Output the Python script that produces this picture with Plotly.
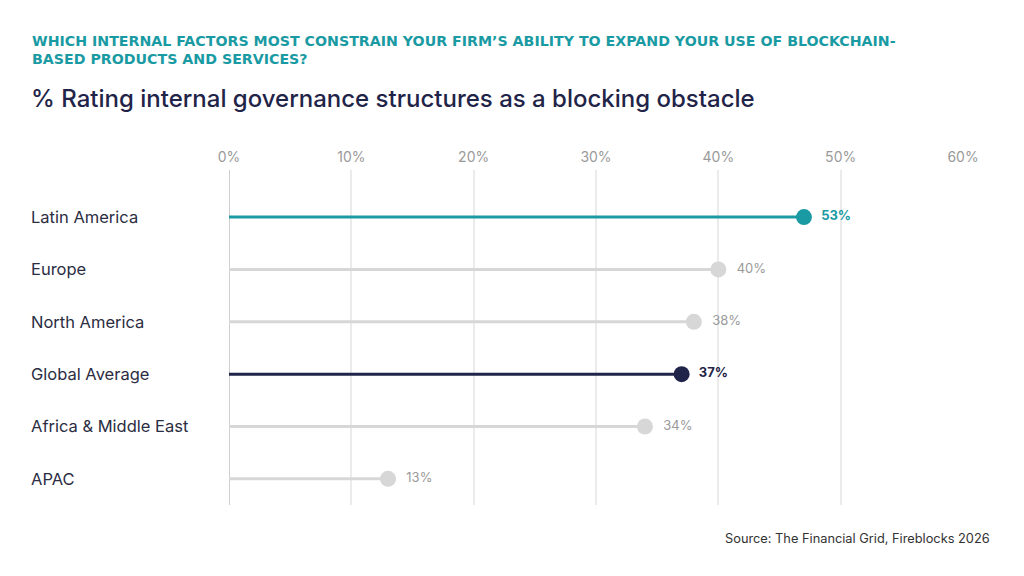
import plotly.graph_objects as go

categories = ["Latin America", "Europe", "North America", "Global Average", "Africa & Middle East", "APAC"]
values = [47, 40, 38, 37, 34, 13]
value_labels = ["53%", "40%", "38%", "37%", "34%", "13%"]
tick_vals = [0, 10, 20, 30, 40, 50, 60]
tick_text = ["0%", "10%", "20%", "30%", "40%", "50%", "60%"]

TEAL = "#1a9aa3"
NAVY = "#1f2448"
GRAY = "#d7d7d7"
GRAY_TXT = "#9a9a9a"

styles = {
    "Latin America": (TEAL, TEAL, "bold"),
    "Global Average": (NAVY, NAVY, "bold"),
}

fig = go.Figure()
W, H = 1024, 576
L, R, T, B = 229, 61, 170, 71
plot_w = W - L - R
plot_h = H - T - B


def px_x(px):
    return (px - L) / plot_w


def px_y(py):
    return (H - B - py) / plot_h


for i, (cat, v, lab) in enumerate(zip(categories, values, value_labels)):
    col, tcol, weight = styles.get(cat, (GRAY, GRAY_TXT, "normal"))
    fig.add_trace(go.Scatter(
        x=[0, v], y=[i, i], mode="lines",
        line=dict(color=col, width=3), hoverinfo="skip", showlegend=False))
    fig.add_trace(go.Scatter(
        x=[v], y=[i], mode="markers+text",
        marker=dict(color=col, size=16),
        text=["  " + lab], textposition="middle right",
        textfont=dict(family="Inter", size=13, color=tcol, weight=weight),
        showlegend=False, cliponaxis=False))
    fig.add_annotation(
        x=px_x(29), xref="paper", y=i, yref="y", xanchor="left",
        text=cat, showarrow=False,
        font=dict(family="Inter", size=16.5, color="#2b2d42"))

# zero line
fig.add_shape(type="line", x0=0, x1=0, y0=-0.9, y1=5.5, xref="x", yref="y",
              line=dict(color="#cfcfcf", width=2), layer="below")

fig.add_annotation(x=px_x(30), y=px_y(31), xref="paper", yref="paper",
                   xanchor="left", yanchor="top", align="left", showarrow=False,
                   text="WHICH INTERNAL FACTORS MOST CONSTRAIN YOUR FIRM’S ABILITY TO EXPAND YOUR USE OF BLOCKCHAIN-<br>BASED PRODUCTS AND SERVICES?",
                   font=dict(family="DejaVu Sans", size=14.2, color=TEAL, weight="bold"))
fig.add_annotation(x=px_x(29), y=px_y(82), xref="paper", yref="paper",
                   xanchor="left", yanchor="top", align="left", showarrow=False,
                   text="% Rating internal governance structures as a blocking obstacle",
                   font=dict(family="Inter", size=24, color=NAVY, weight=500))
fig.add_annotation(x=px_x(992), y=px_y(538), xref="paper", yref="paper",
                   xanchor="right", yanchor="middle", showarrow=False,
                   text="Source: The Financial Grid, Fireblocks 2026",
                   font=dict(family="Inter", size=12.8, color="#333333"))

fig.update_layout(
    width=W, height=H,
    margin=dict(l=L, r=R, t=T, b=B),
    paper_bgcolor="white", plot_bgcolor="white",
    xaxis=dict(range=[0, 60], side="top", tickvals=tick_vals, ticktext=tick_text,
               showgrid=True, gridcolor="#ebebeb", gridwidth=1.5, zeroline=False,
               showline=False, ticks="", ticklabelstandoff=4,
               tickfont=dict(family="Inter", size=14, color=GRAY_TXT), fixedrange=True),
    yaxis=dict(range=[5.5, -0.9], showticklabels=False, showgrid=False,
               zeroline=False, showline=False, fixedrange=True),
)

fig.write_html("out.html", config={"displayModeBar": False})
